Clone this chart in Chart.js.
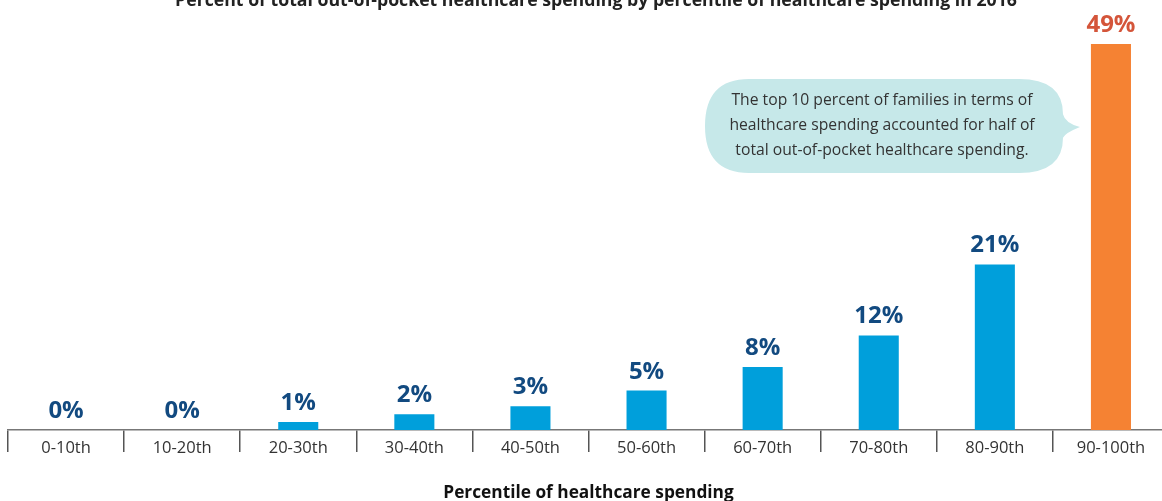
<!DOCTYPE html>
<html>
<head>
<meta charset="utf-8">
<script src="https://cdn.jsdelivr.net/npm/chart.js@4/dist/chart.umd.min.js"></script>
<style>
  html, body { margin: 0; padding: 0; background: #fff; overflow: hidden; }
  #wrap { position: relative; width: 1175px; height: 501px; }
</style>
</head>
<body>
<div id="wrap"><canvas id="grafico"></canvas></div>
<script>
// --- dados ---
const percentis = ['0-10th', '10-20th', '20-30th', '30-40th', '40-50th', '50-60th', '60-70th', '70-80th', '80-90th', '90-100th'];
const participacao = [0, 0, 1, 2, 3, 5, 8, 12, 21, 49];
const tituloGrafico = 'Percent of total out-of-pocket healthcare spending by percentile of healthcare spending in 2016';
const tituloEixoX = 'Percentile of healthcare spending';
const textoBalao = [
    'The top 10 percent of families in terms of',
    'healthcare spending accounted for half of',
    'total out-of-pocket healthcare spending.'
];

const AZUL = '#009fdb';
const LARANJA = '#f58233';
const FONTE = '"Open Sans", Lato, sans-serif';

// ultima barra destacada em laranja
const coresBarras = participacao.map((v, i) => i === participacao.length - 1 ? LARANJA : AZUL);
const coresRotulos = participacao.map((v, i) => i === participacao.length - 1 ? '#d4553a' : '#124a80');

// titulo, rotulos de valor e balao de comentario
const extras = {
    id: 'extras',
    afterDatasetsDraw(chart) {
        const ctx = chart.ctx;
        ctx.save();

        // titulo (cortado no topo)
        ctx.font = 'bold 17.7px ' + FONTE;
        ctx.fillStyle = '#222';
        ctx.textAlign = 'center';
        ctx.textBaseline = 'alphabetic';
        ctx.fillText(tituloGrafico, 596, 6);

        // rotulos acima das barras
        const meta = chart.getDatasetMeta(0);
        ctx.font = 'bold 24px ' + FONTE;
        ctx.textBaseline = 'alphabetic';
        meta.data.forEach((barra, i) => {
            ctx.fillStyle = coresRotulos[i];
            ctx.fillText(participacao[i] + '%', barra.x, barra.y - 12);
        });

        // balao
        const ultima = meta.data[meta.data.length - 1];
        const esq = 705, dir = 1063, topo = 79, base = 173, r = 44;
        const pontaX = ultima.x - ultima.width / 2 - 11, pontaY = 127;
        ctx.fillStyle = '#c6e8e9';
        ctx.beginPath();
        ctx.moveTo(esq + r, topo);
        ctx.lineTo(dir - r, topo);
        ctx.quadraticCurveTo(dir, topo, dir, topo + r * 0.8);
        ctx.quadraticCurveTo(dir + 2, pontaY - 4, pontaX, pontaY);
        ctx.quadraticCurveTo(dir + 2, pontaY + 6, dir, base - r * 0.8);
        ctx.quadraticCurveTo(dir, base, dir - r, base);
        ctx.lineTo(esq + r, base);
        ctx.quadraticCurveTo(esq, base, esq, (topo + base) / 2);
        ctx.quadraticCurveTo(esq, topo, esq + r, topo);
        ctx.closePath();
        ctx.fill();

        ctx.font = '15.7px ' + FONTE;
        ctx.fillStyle = '#333';
        ctx.textBaseline = 'middle';
        textoBalao.forEach((linha, i) => {
            ctx.fillText(linha, 882, 101 + i * 25);
        });

        ctx.restore();
    }
};

new Chart(document.getElementById('grafico'), {
    type: 'bar',
    data: {
        labels: percentis,
        datasets: [{
            data: participacao,
            backgroundColor: coresBarras,
            borderWidth: 0,
            barPercentage: 0.345,
            categoryPercentage: 1
        }]
    },
    options: {
        responsive: true,
        maintainAspectRatio: false,
        animation: false,
        layout: { padding: { top: 36, left: 8, right: 6, bottom: 0 } },
        plugins: {
            legend: { display: false },
            tooltip: { enabled: false }
        },
        scales: {
            y: {
                display: false,
                min: 0,
                max: 50
            },
            x: {
                grid: {
                    display: true,
                    drawOnChartArea: false,
                    drawTicks: true,
                    tickLength: 22,
                    offset: true,
                    color: '#555',
                    lineWidth: 1.5
                },
                border: { display: true, color: '#777', width: 1.5 },
                ticks: {
                    padding: -14,
                    color: '#333',
                    font: { family: FONTE, size: 16.5 }
                },
                title: {
                    display: true,
                    text: tituloEixoX,
                    color: '#111',
                    font: { family: FONTE, size: 17.3, weight: 'bold' },
                    padding: { top: 38.5, bottom: -2 }
                }
            }
        }
    },
    plugins: [extras]
});
</script>
</body>
</html>
